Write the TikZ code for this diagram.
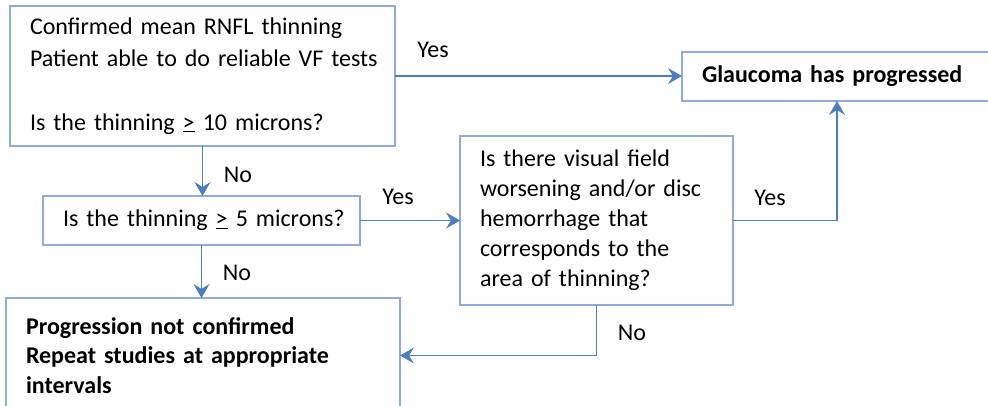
\documentclass[tikz,border=0pt]{standalone}
\usepackage{fontspec}
\setmainfont{Carlito}
\usetikzlibrary{arrows.meta}
\definecolor{boxc}{RGB}{143,170,220}
\definecolor{arrc}{RGB}{74,126,190}
\begin{document}
\begin{tikzpicture}[x=1pt,y=-1pt,
  box/.style={draw=boxc, line width=1.2pt, rectangle, anchor=north west, inner ysep=0pt, inner xsep=20pt, outer sep=0pt, font=\fontsize{24}{30}\selectfont},
  conn/.style={draw=arrc, line width=1.4pt, -{Stealth[length=14pt,width=16pt,inset=5pt]}},
  lbl/.style={font=\fontsize{24}{30}\selectfont, inner sep=0pt}]
\useasboundingbox (0,0) rectangle (988,405);
\node[box, minimum width=385pt, minimum height=140pt, text width=345pt, align=left, font=\fontsize{24}{32}\selectfont] (b1) at (10,6)
  {\mbox{Confirmed mean RNFL thinning}\\\mbox{Patient able to do reliable VF tests}\\\mbox{}\\\mbox{Is the thinning \underline{>} 10 microns?}};
\node[box, minimum width=310pt, minimum height=49pt, text width=270pt, align=left, font=\fontsize{24}{30}\selectfont\bfseries] (gl) at (682,52)
  {\mbox{Glaucoma has progressed}};
\node[box, minimum width=317pt, minimum height=49pt, text width=277pt, align=center] (b2) at (43,196)
  {\mbox{Is the thinning \underline{>} 5 microns?}};
\node[box, minimum width=273pt, minimum height=169pt, text width=233pt, align=left] (b3) at (460,136)
  {\mbox{Is there visual field}\\\mbox{worsening and/or disc}\\\mbox{hemorrhage that}\\\mbox{corresponds to the}\\\mbox{area of thinning?}};
\node[box, minimum width=394pt, minimum height=115pt, text width=354pt, align=left, font=\fontsize{24}{29.5}\selectfont\bfseries] (b4) at (6,298)
  {\mbox{Progression not confirmed}\\\mbox{Repeat studies at appropriate}\\\mbox{intervals}};
\draw[conn] (b1.east) -- (b1.east -| gl.west);
\draw[conn] (b1.south) -- (b1.south |- b2.north);
\draw[conn] (b2.east) -- (b2.east -| b3.west);
\draw[conn] (b2.south) -- (b2.south |- b4.north);
\draw[conn] (b3.east) -| (gl.south);
\draw[conn] (b3.south) |- (b4.east);
\node[lbl] (y1) at (433,50) {Yes};
\node[lbl] (n1) at (238,175) {No};
\node[lbl] (y2) at (398,197) {Yes};
\node[lbl] (n2) at (237,273) {No};
\node[lbl] (y3) at (770,198) {Yes};
\node[lbl] (n3) at (632,333) {No};
\end{tikzpicture}
\end{document}
